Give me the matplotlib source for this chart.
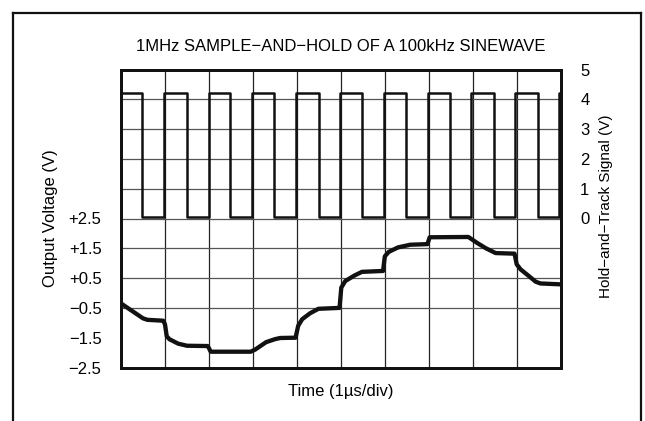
import matplotlib
matplotlib.use('Agg')
import matplotlib.pyplot as plt
from matplotlib.lines import Line2D

plt.rcParams['font.family'] = ['Liberation Sans', 'DejaVu Sans']

# output voltage (left axis), time in divisions
out_t = [0.00, 0.25, 0.50, 0.60, 0.96, 1.00, 1.04, 1.10, 1.30, 1.50, 1.97,
         2.00, 2.04, 2.95, 3.05, 3.30, 3.50, 3.62, 3.97, 4.00, 4.03, 4.12,
         4.30, 4.49, 4.97, 5.01, 5.10, 5.30, 5.48, 5.96, 6.00, 6.09, 6.30,
         6.58, 6.97, 7.02, 7.90, 8.10, 8.30, 8.52, 8.95, 9.00, 9.09, 9.25,
         9.43, 9.54, 10.0]
out_v = [-0.35, -0.60, -0.85, -0.90, -0.93, -1.05, -1.45, -1.55, -1.70, -1.77, -1.78,
         -1.85, -1.97, -1.97, -1.90, -1.65, -1.55, -1.51, -1.50, -1.30, -1.10, -0.88,
         -0.68, -0.53, -0.50, 0.18, 0.40, 0.58, 0.71, 0.74, 1.23, 1.38, 1.53,
         1.62, 1.64, 1.87, 1.88, 1.68, 1.50, 1.34, 1.32, 0.96, 0.79, 0.60,
         0.38, 0.32, 0.29]

# hold-and-track signal (right axis)
fall_t = [0.48, 1.49, 2.48, 3.48, 4.50, 5.49, 6.49, 7.48, 8.48, 9.49]
rise_t = [0.98, 1.99, 2.99, 3.98, 4.98, 5.97, 6.99, 7.97, 8.96, 9.95]
high_v = 4.2
low_v = 0.05

left_ticks = [-2.5, -1.5, -0.5, 0.5, 1.5, 2.5]
left_labels = ['\u22122.5', '\u22121.5', '\u22120.5', '+0.5', '+1.5', '+2.5']
right_ticks = [0, 1, 2, 3, 4, 5]

fig = plt.figure(figsize=(6.45, 4.21), dpi=100)
ax = fig.add_axes([121 / 645, 1 - 367.5 / 421, 439.7 / 645, 298 / 421])
ax2 = ax.twinx()

ax.set_xlim(0, 10)
ax.set_ylim(-2.5, 7.5)
ax2.set_ylim(-5, 5)

# grid
for x in range(1, 10):
    ax.axvline(x, color='#222222', lw=0.9, zorder=1)
for y in range(-1, 7):
    ax.axhline(y + 0.5, color='#555555', lw=0.9, zorder=1)

# square wave
sq_t = [0.0]
sq_v = [high_v]
for f, r in zip(fall_t, rise_t):
    sq_t += [f, f, r, r]
    sq_v += [high_v, low_v, low_v, high_v]
sq_t.append(10.0)
sq_v.append(high_v)
ax2.plot(sq_t, sq_v, color='#111111', lw=1.8, solid_joinstyle='round',
         clip_on=False, zorder=3)

ax.plot(out_t, out_v, color='#111111', lw=3.1, solid_joinstyle='round',
        solid_capstyle='butt', zorder=4)

ax.set_xticks([])
ax.set_yticks(left_ticks)
ax.set_yticklabels(left_labels, fontsize=12)
ax2.set_yticks(right_ticks)
ax2.set_yticklabels([str(v) for v in right_ticks], fontsize=12)
ax.tick_params(axis='y', length=0, pad=14)
ax2.tick_params(axis='y', length=0, pad=14)
for a in (ax, ax2):
    for s in a.spines.values():
        s.set_linewidth(2)
        s.set_color('#111111')

ax.set_ylabel('Output Voltage (V)', fontsize=12)
ax.yaxis.set_label_coords(-0.143, 0.5)
ax2.set_ylabel('Hold\u2212and\u2212Track Signal (V)', fontsize=11)
ax2.yaxis.set_label_coords(1.087, 0.54)
ax.set_xlabel('Time (1\u00b5s/div)', fontsize=12, labelpad=12)
ax.set_title('1MHz SAMPLE\u2212AND\u2212HOLD OF A 100kHz SINEWAVE', fontsize=12, pad=13)

# outer frame
fig.add_artist(Line2D([12.5 / 645, 12.5 / 645], [0, 1 - 13 / 421], color='#111111', lw=1.6))
fig.add_artist(Line2D([641 / 645, 641 / 645], [0, 1 - 13 / 421], color='#111111', lw=1.6))
fig.add_artist(Line2D([12.5 / 645, 641 / 645], [1 - 13 / 421, 1 - 13 / 421], color='#111111', lw=1.6))

fig.savefig('out.png', dpi=100)
